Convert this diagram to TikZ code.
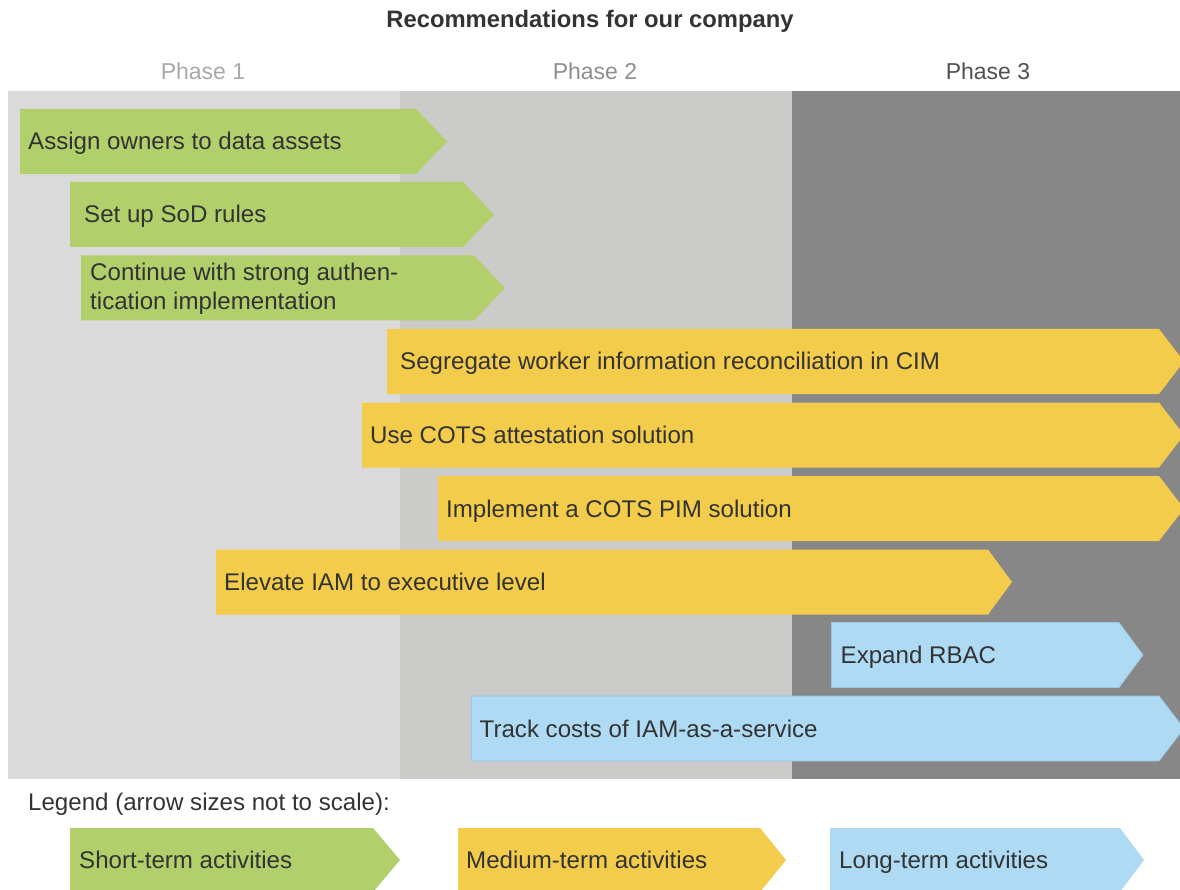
\documentclass[tikz,border=0pt]{standalone}
\usepackage{fontspec}
\setmainfont{Liberation Sans}
\definecolor{cgreen}{HTML}{B1CF6A}
\definecolor{cyellow}{HTML}{F3CC4B}
\definecolor{cblue}{HTML}{AEDAF4}
\definecolor{cblueedge}{HTML}{9CC6E0}
\definecolor{ctext}{HTML}{333333}
\definecolor{pone}{HTML}{DADADA}
\definecolor{ptwo}{HTML}{CBCBCA}
\definecolor{pthree}{HTML}{878787}
\definecolor{lone}{HTML}{A8A8A8}
\definecolor{ltwo}{HTML}{8E8E8E}
\definecolor{lthree}{HTML}{505050}
\tikzset{
  lbl/.style={anchor=west, inner sep=0pt, text=ctext, font=\fontsize{24.1}{29}\selectfont, text height=17pt, text depth=0pt, align=left},
  phaselbl/.style={inner sep=0pt, font=\fontsize{23}{27}\selectfont, text height=16pt, text depth=0pt},
  greenarr/.style={fill=cgreen},
  yellowarr/.style={fill=cyellow},
  bluearr/.style={fill=cblue, draw=cblueedge, line width=0.8pt},
}
% #1 name, #2 left x, #3 top y, #4 height, #5 body end x, #6 tip x, #7 style, #8 text, #9 text inset
\newcommand\activity[9]{%
  \path[#7] (#2,#3) -- (#5,#3) -- (#6,{#3+#4/2}) -- (#5,{#3+#4}) -- (#2,{#3+#4}) -- cycle;
  \node[lbl] (#1) at ({#2+#9},{#3+#4/2}) {#8};
}
\begin{document}
\begin{tikzpicture}[x=1pt,y=-1pt]
\useasboundingbox (0,0) rectangle (1180,890);
\clip (0,0) rectangle (1180,890);
% phase backgrounds
\fill[pone] (8,91) rectangle (400,779);
\fill[ptwo] (400,91) rectangle (792,779);
\fill[pthree] (792,91) rectangle (1180,779);
% title and phase labels
\node[inner sep=0pt, text=ctext, font=\bfseries\fontsize{23.8}{28}\selectfont, text height=16pt, text depth=0pt] (title) at (590,20) {Recommendations for our company};
\node[phaselbl, text=lone] (ph1) at (203,72) {Phase 1};
\node[phaselbl, text=ltwo] (ph2) at (595,72) {Phase 2};
\node[phaselbl, text=lthree] (ph3) at (988,72) {Phase 3};
% activities
\activity{a1}{20}{109}{65}{416}{447}{greenarr}{Assign owners to data assets}{8}
\activity{a2}{70}{182}{65}{463}{494}{greenarr}{Set up SoD rules}{14}
\path[greenarr] (81,255.5) -- (474,255.5) -- (505,288) -- (474,320.5) -- (81,320.5) -- cycle;
\node[lbl] (a3) at (90,301) {Continue with strong authen-\\tication implementation};
\activity{a4}{387}{329}{65}{1159}{1184}{yellowarr}{Segregate worker information reconciliation in CIM}{13}
\activity{a5}{362}{402.5}{65}{1159}{1184}{yellowarr}{Use COTS attestation solution}{8}
\activity{a6}{438}{476}{65}{1159}{1184}{yellowarr}{Implement a COTS PIM solution}{8}
\activity{a7}{216}{549.5}{65}{988}{1012}{yellowarr}{Elevate IAM to executive level}{8}
\activity{a8}{831.5}{622.5}{65}{1119}{1143}{bluearr}{Expand RBAC}{9}
\activity{a9}{471.5}{696}{65}{1159}{1184}{bluearr}{Track costs of IAM-as-a-service}{8}
% legend
\node[lbl] (legend) at (28,802) {Legend (arrow sizes not to scale):};
\activity{lg1}{70}{828}{64}{373}{400}{greenarr}{Short-term activities}{9}
\activity{lg2}{458}{828}{64}{760}{786}{yellowarr}{Medium-term activities}{8}
\activity{lg3}{830}{828}{64}{1120}{1144}{fill=cblue}{Long-term activities}{9}
\end{tikzpicture}
\end{document}
